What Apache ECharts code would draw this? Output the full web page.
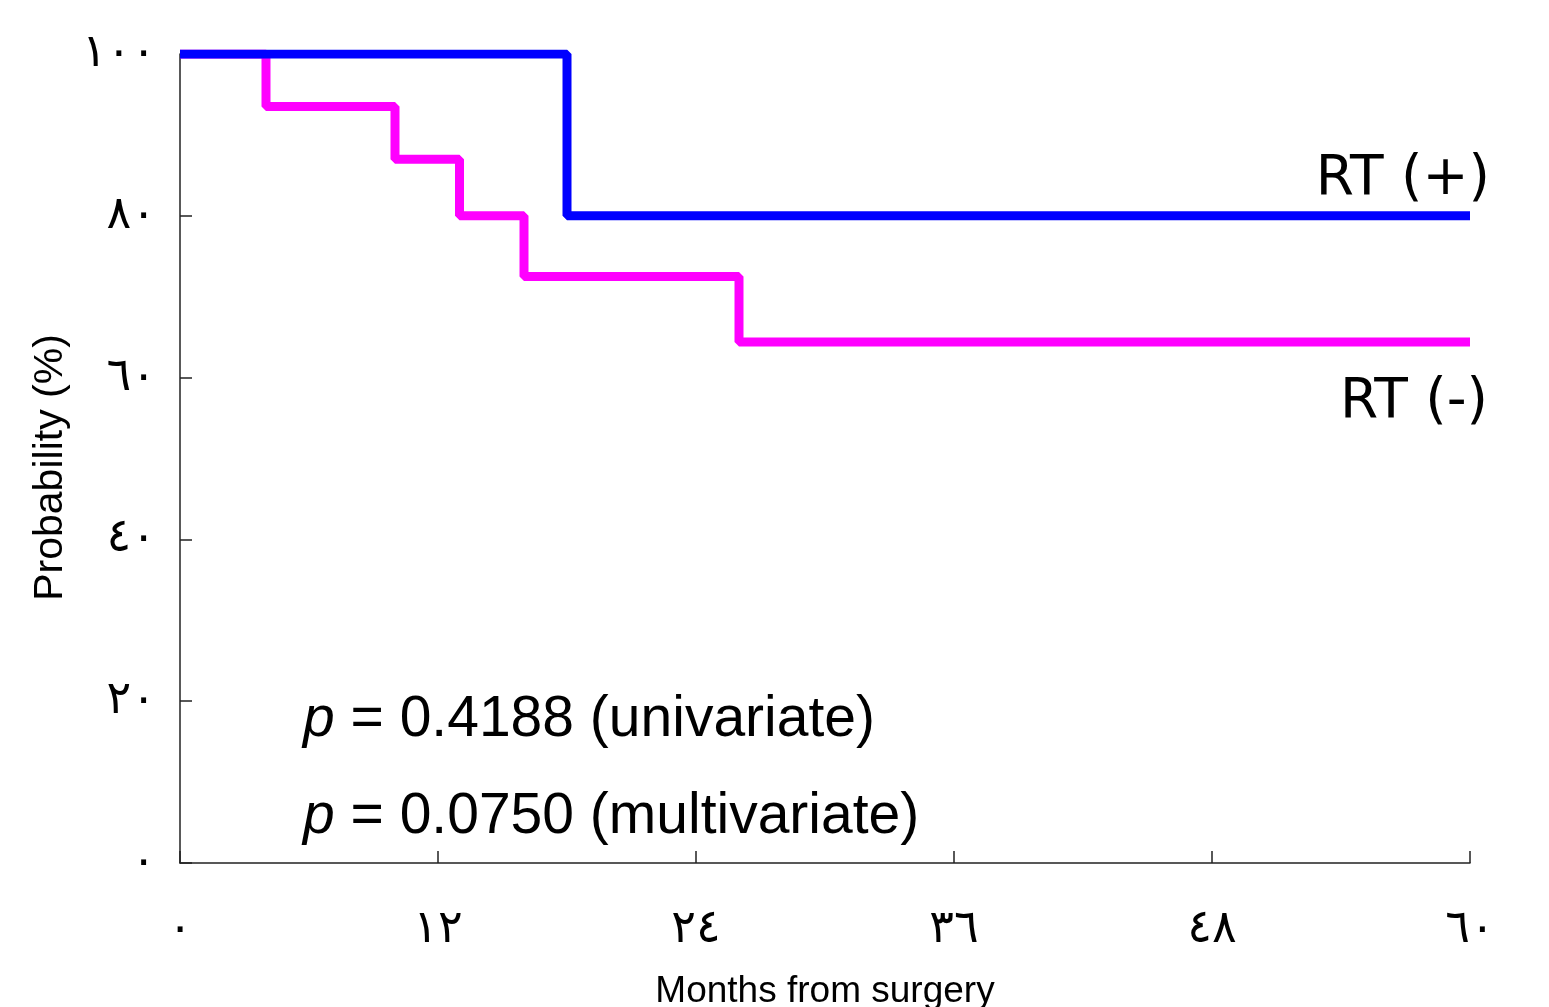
<!DOCTYPE html>
<html>
<head>
<meta charset="utf-8">
<script src="https://cdn.jsdelivr.net/npm/echarts@6/dist/echarts.min.js"></script>
<style>
html, body { margin: 0; padding: 0; background: #fff; }
#main { width: 1549px; height: 1007px; }
</style>
</head>
<body>
<div id="main"></div>
<script>
// tick labels (Arabic-Indic digits as in the figure)
var xTickLabels = ['٠', '١٢', '٢٤', '٣٦', '٤٨', '٦٠'];
var yTickLabels = ['٠', '٢٠', '٤٠', '٦٠', '٨٠', '١٠٠'];

// Kaplan-Meier curves: month of each step and probability after it
var rtPlusMonths = [0, 18, 60];
var rtPlusProb = [100, 80, 80];
var rtMinusMonths = [0, 4, 10, 13, 16, 26, 60];
var rtMinusProb = [100, 93.5, 87.0, 80.0, 72.5, 64.4, 64.4];

var groupNames = ['RT (+)', 'RT (-)'];
var pValues = ['0.4188', '0.0750'];
var pKinds = ['univariate', 'multivariate'];

function pairs(xs, ys) {
    var out = [];
    for (var i = 0; i < xs.length; i++) out.push([xs[i], ys[i]]);
    return out;
}

var chart = echarts.init(document.getElementById('main'));

var axisColor = '#222';
var pFont = 'Liberation Sans, Arial, sans-serif';

chart.setOption({
    animation: false,
    backgroundColor: '#fff',
    grid: { left: 180, right: 79, top: 54, bottom: 144, outerBoundsMode: 'none', containLabel: false },
    xAxis: {
        type: 'value',
        min: 0, max: 60, interval: 12,
        name: 'Months from surgery',
        nameLocation: 'middle',
        nameGap: 110,
        nameTextStyle: { fontSize: 37, color: '#000', fontFamily: 'Liberation Sans, Arial, sans-serif' },
        axisLine: { lineStyle: { color: axisColor, width: 1.5 } },
        axisTick: { inside: true, length: 12, lineStyle: { color: axisColor, width: 1.5 } },
        splitLine: { show: false },
        axisLabel: {
            margin: 44,
            fontSize: 46,
            color: '#000',
            fontFamily: 'DejaVu Sans',
            formatter: function (v) { return xTickLabels[Math.round(v / 12)]; }
        }
    },
    yAxis: {
        type: 'value',
        min: 0, max: 100, interval: 20,
        name: 'Probability (%)',
        nameLocation: 'middle',
        nameGap: 80,
        nameTextStyle: { fontSize: 41, color: '#000', fontFamily: 'Liberation Sans, Arial, sans-serif',
                         padding: [0, 18, 0, 0] },
        axisLine: { show: true, lineStyle: { color: axisColor, width: 1.5 } },
        axisTick: { show: true, inside: true, length: 12, lineStyle: { color: axisColor, width: 1.5 } },
        splitLine: { show: false },
        axisLabel: {
            margin: 24,
            fontSize: 46,
            color: '#000',
            fontFamily: 'DejaVu Sans',
            formatter: function (v) { return yTickLabels[Math.round(v / 20)]; }
        }
    },
    series: [
        {
            name: groupNames[1],
            type: 'line',
            step: 'end',
            symbol: 'none',
            lineStyle: { color: '#ff00ff', width: 9 },
            data: pairs(rtMinusMonths, rtMinusProb)
        },
        {
            name: groupNames[0],
            type: 'line',
            step: 'end',
            symbol: 'none',
            lineStyle: { color: '#0000ff', width: 9 },
            data: pairs(rtPlusMonths, rtPlusProb)
        }
    ],
    graphic: [
        {
            type: 'text', x: 1490, y: 180,
            style: { text: groupNames[0], align: 'right', verticalAlign: 'middle',
                     font: '55px "DejaVu Sans"', fill: '#000' }
        },
        {
            type: 'text', x: 1488, y: 403,
            style: { text: groupNames[1], align: 'right', verticalAlign: 'middle',
                     font: '55px "DejaVu Sans"', fill: '#000' }
        },
        {
            type: 'text', x: 303, y: 720,
            style: {
                text: '{i|p} = ' + pValues[0] + ' (' + pKinds[0] + ')',
                verticalAlign: 'middle', fill: '#000',
                fontSize: 57, fontFamily: pFont,
                rich: { i: { fontStyle: 'italic', fontSize: 57, fontFamily: pFont, fill: '#000' } }
            }
        },
        {
            type: 'text', x: 303, y: 817,
            style: {
                text: '{i|p} = ' + pValues[1] + ' (' + pKinds[1] + ')',
                verticalAlign: 'middle', fill: '#000',
                fontSize: 57, fontFamily: pFont,
                rich: { i: { fontStyle: 'italic', fontSize: 57, fontFamily: pFont, fill: '#000' } }
            }
        }
    ]
});
</script>
</body>
</html>
